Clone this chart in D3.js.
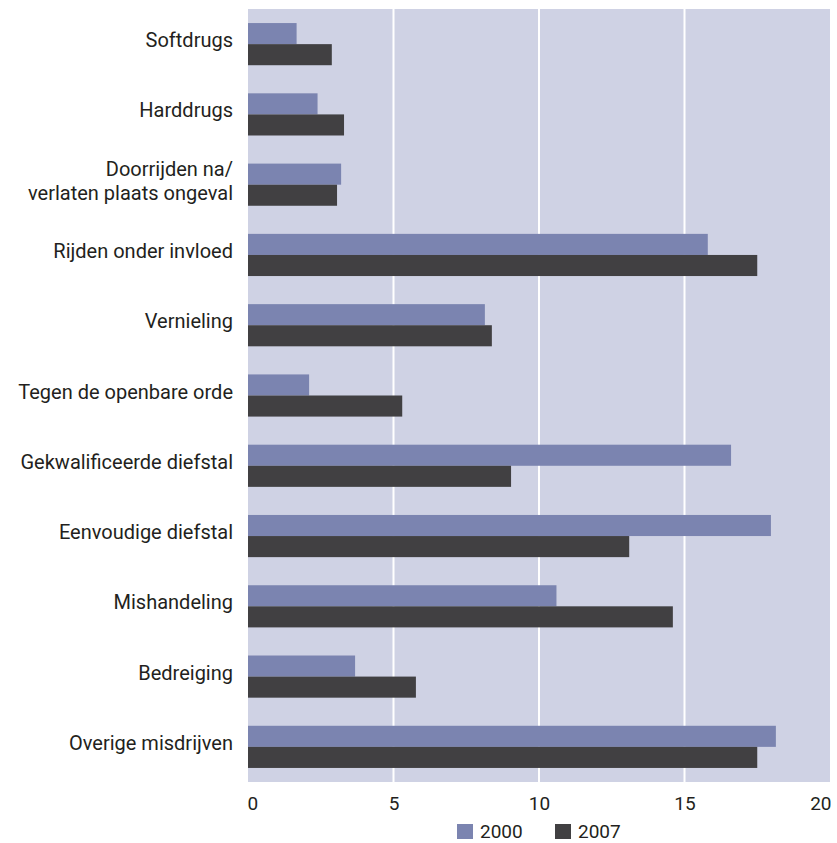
<!DOCTYPE html>
<html><head><meta charset="utf-8">
<script src="https://cdn.jsdelivr.net/npm/d3@7"></script>
<style>body{margin:0;background:#fff;}svg{display:block;font-family:Roboto,"Liberation Sans",sans-serif;}</style>
</head><body><svg id="c" width="837" height="843"></svg>
<script>
const categories = [["Softdrugs"],["Harddrugs"],["Doorrijden na/","verlaten plaats ongeval"],["Rijden onder invloed"],["Vernieling"],["Tegen de openbare orde"],["Gekwalificeerde diefstal"],["Eenvoudige diefstal"],["Mishandeling"],["Bedreiging"],["Overige misdrijven"]];
const values2000 = [1.67,2.39,3.2,15.8,8.14,2.1,16.6,17.97,10.6,3.68,18.14];
const values2007 = [2.88,3.3,3.06,17.5,8.38,5.3,9.04,13.1,14.6,5.77,17.5];
const seriesNames = ["2000","2007"];
const xTicks = [0,5,10,15,20];

const colors = {"2000":"#7b84b0","2007":"#414042"};
const svg = d3.select("#c");
const L=248,R=830,T=9,B=782;
const x = d3.scaleLinear().domain([0,20]).range([L,R]);
const keys = categories.map((c,i)=>i);
const y = d3.scaleBand().domain(keys).range([T,B]).paddingInner(0.4).paddingOuter(0.2);
const y2 = d3.scaleBand().domain(seriesNames).range([0,y.bandwidth()]);

svg.append("rect").attr("x",L).attr("y",T).attr("width",R-L).attr("height",B-T).attr("fill","#cfd2e4");
svg.selectAll("line.g").data(xTicks.slice(1,-1)).enter().append("line")
  .attr("x1",d=>x(d)).attr("x2",d=>x(d)).attr("y1",T).attr("y2",B)
  .attr("stroke","#fff").attr("stroke-width",2);

const data = seriesNames.map((s,si)=>({s, vals: si===0?values2000:values2007}));
data.forEach(d=>{
  svg.selectAll(null).data(d.vals).enter().append("rect")
    .attr("x",x(0)).attr("y",(v,i)=>y(i)+y2(d.s))
    .attr("width",v=>x(v)-x(0)).attr("height",y2.bandwidth())
    .attr("fill",colors[d.s]);
});

// category labels
categories.forEach((lines,i)=>{
  const cy = y(i)+y.bandwidth()/2;
  const t = svg.append("text").attr("text-anchor","end").attr("font-size",20).attr("fill","#231f20");
  const n = lines.length;
  lines.forEach((ln,j)=>{
    t.append("tspan").attr("x",233).attr("y",cy + (j-(n-1)/2)*24 + 3).text(ln);
  });
});

// x axis labels
const ax = d3.axisBottom(x).tickValues(xTicks).tickSize(0).tickPadding(0);
const g = svg.append("g").attr("transform",`translate(0,${B})`).call(ax);
g.select(".domain").remove();
g.selectAll("text").attr("font-size",19).attr("fill","#231f20").attr("font-family","Roboto,'Liberation Sans',sans-serif").attr("dy",0).attr("y",28)
  .attr("text-anchor",(d,i)=> i===0?"start":(i===xTicks.length-1?"end":"middle"))
  .attr("dx",(d,i)=> i===0?-1:(i===xTicks.length-1?1:0));

// legend
const leg = svg.append("g");
[[457,"2000"],[555,"2007"]].forEach(([lx,s])=>{
  leg.append("rect").attr("x",lx).attr("y",824).attr("width",16).attr("height",15).attr("fill",colors[s]);
  leg.append("text").attr("x",lx+23).attr("y",838).attr("font-size",19).attr("fill","#231f20").text(s);
});
</script></body></html>
